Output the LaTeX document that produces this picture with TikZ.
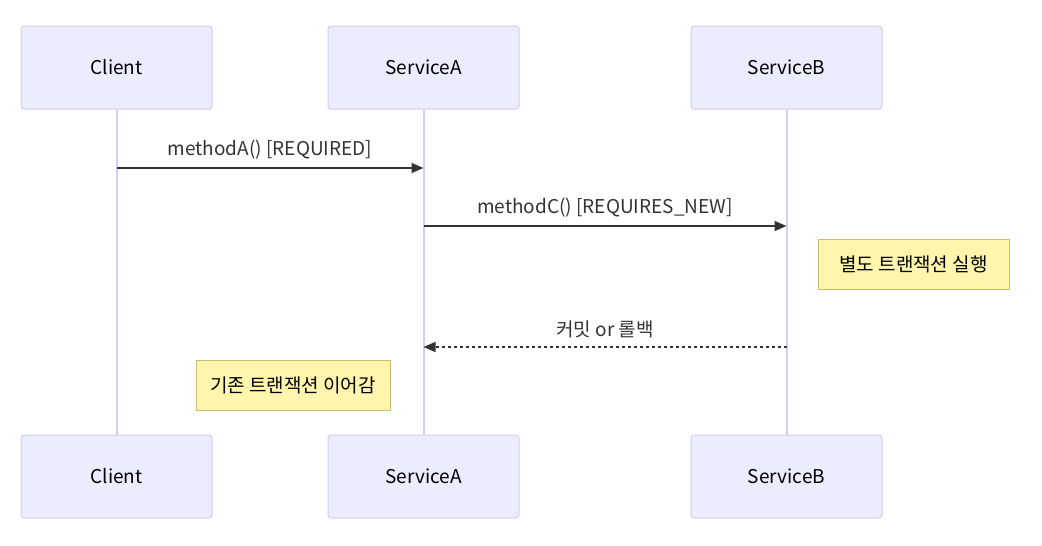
\documentclass[tikz,border=0pt]{standalone}
\usepackage{fontspec}
\setmainfont{Noto Sans CJK KR}
\usetikzlibrary{arrows.meta}
\definecolor{actorfill}{HTML}{ECECFF}
\definecolor{actorline}{HTML}{D4CCF4}
\definecolor{notefill}{HTML}{FFF5AD}
\definecolor{noteline}{HTML}{C8C070}
\definecolor{msgcol}{HTML}{333333}
\tikzset{
  actor/.style={draw=actorline,fill=actorfill,line width=1pt,rounded corners=3pt,
    minimum width=191pt,minimum height=83pt,font=\fontsize{19}{22}\selectfont},
  note/.style={draw=noteline,fill=notefill,line width=1pt,minimum height=50pt,
    font=\fontsize{19}{22}\selectfont},
  msg/.style={draw=msgcol,line width=1.5pt,-{Triangle[length=12pt,width=10pt]}},
  lbl/.style={font=\fontsize{19}{22}\selectfont,text=msgcol,above=5pt}
}
\begin{document}
\begin{tikzpicture}[x=1pt,y=-1pt]
    \useasboundingbox(0,0)rectangle(1042,546);

    \node[actor](ct)at(116.5,67.5){Client};
    \node[actor](at)at(423.5,67.5){ServiceA};
    \node[actor](bt)at(786.5,67.5){ServiceB};
    \node[actor](cb)at(116.5,476.5){Client};
    \node[actor](ab)at(423.5,476.5){ServiceA};
    \node[actor](bb)at(786.5,476.5){ServiceB};

    \foreach\T/\B in{ct/cb,at/ab,bt/bb}\draw[actorline,line width=2pt](\T.south)--(\B.north);

    \coordinate(c1)at(116.5,168);
    \coordinate(a1)at(423.5,168);
    \coordinate(a2)at(423.5,226);
    \coordinate(b2)at(786.5,226);
    \coordinate(b3)at(786.5,347);
    \coordinate(a3)at(423.5,347);

    \draw[msg](c1)--(a1)node[midway,lbl]{methodA() [REQUIRED]};
    \draw[msg](a2)--(b2)node[midway,lbl]{methodC() [REQUIRES\_NEW]};
    \draw[msg,dash pattern=on 3pt off 3pt](b3)--(a3)node[midway,lbl]{커밋 or 롤백};

    \node[note,minimum width=191pt](n1)at(913.5,264){별도 트랜잭션 실행};
    \node[note,minimum width=194pt](n2)at(293,385.5){기존 트랜잭션 이어감};
  \end{tikzpicture}
\end{document}
